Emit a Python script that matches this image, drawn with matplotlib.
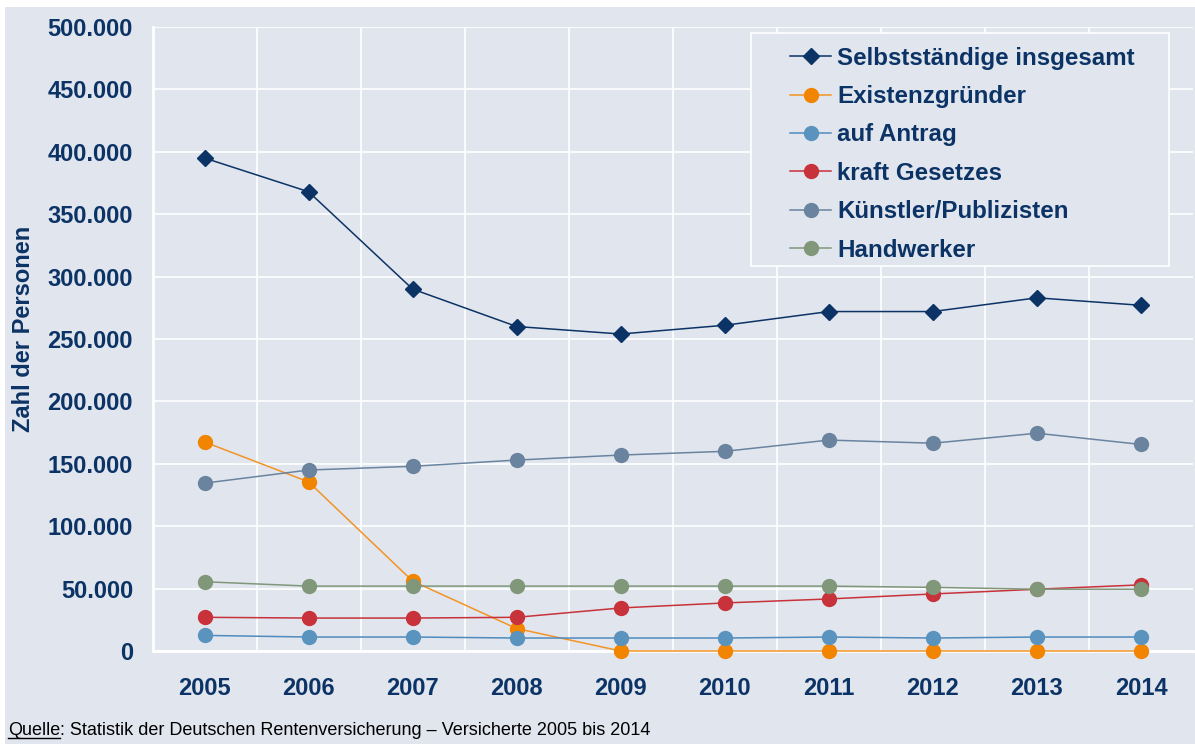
import matplotlib
matplotlib.use("Agg")
import matplotlib.pyplot as plt
from matplotlib.lines import Line2D
from matplotlib.ticker import FuncFormatter

plt.rcParams['font.family'] = ['Liberation Sans', 'DejaVu Sans']

years = ["2005", "2006", "2007", "2008", "2009", "2010", "2011", "2012", "2013", "2014"]

selbststaendige = [395000, 368000, 290000, 260000, 254000, 261000, 272000, 272000, 283000, 277000]
existenzgruender = [167500, 135500, 56000, 18000, 0, 0, 0, 0, 0, 0]
auf_antrag = [12500, 11200, 11200, 10400, 10400, 10400, 11200, 10400, 11200, 11200]
kraft_gesetzes = [27000, 26400, 26400, 27000, 34500, 38500, 41700, 45700, 49500, 53000]
kuenstler = [134500, 145000, 148000, 153000, 157000, 160000, 169000, 166500, 174500, 165500]
handwerker = [55500, 52000, 52000, 52000, 52000, 52000, 52000, 51000, 49500, 49500]

y_ticks = [0, 50000, 100000, 150000, 200000, 250000, 300000, 350000, 400000, 450000, 500000]

BG = "#E1E5ED"
NAVY = "#0C3366"
W, H = 1195, 744

series = [
    ("Selbstständige insgesamt", selbststaendige, "#0C3366", "#0C3366", "D", 8.6),
    ("Existenzgründer", existenzgruender, "#F39426", "#F28500", "o", 10),
    ("auf Antrag", auf_antrag, "#4F8BBE", "#5A93BE", "o", 10),
    ("kraft Gesetzes", kraft_gesetzes, "#C8323A", "#C8323A", "o", 10),
    ("Künstler/Publizisten", kuenstler, "#6A84A0", "#6A84A0", "o", 10),
    ("Handwerker", handwerker, "#80977A", "#80977A", "o", 10),
]

fig = plt.figure(figsize=(W / 100, H / 100), dpi=100, facecolor="white")
# panel background, leaving a thin white margin at top and left
fig.patches.append(plt.Rectangle((5 / W, 0), 1, (H - 7) / H,
                                 transform=fig.transFigure, facecolor=BG,
                                 edgecolor="none", zorder=-10))

ax = fig.add_axes([152.5 / W, 93 / H, 1040.5 / W, 624 / H])
ax.set_facecolor(BG)

x = list(range(len(years)))
handles = []
for label, values, lc, mc, marker, ms in series:
    ax.plot(x, values, color=lc, lw=1.1, marker=marker, markersize=ms,
            markerfacecolor=mc, markeredgecolor=mc, label=label,
            clip_on=False, zorder=3)
    handles.append(Line2D([0], [0], color=lc, lw=1.1, marker=marker,
                          markersize=ms, markerfacecolor=mc,
                          markeredgecolor=mc, label=label))

ax.set_xlim(-0.5, len(years) - 0.5)
ax.set_ylim(0, 500000)
ax.set_xticks(x)
ax.set_xticklabels(years)
ax.set_yticks(y_ticks)
ax.yaxis.set_major_formatter(FuncFormatter(
    lambda v, p: "0" if v == 0 else f"{int(v):,}".replace(",", ".")))

# vertical grid lines sit between the year categories
ax.set_xticks([i + 0.5 for i in range(len(years) - 1)], minor=True)
ax.grid(True, axis="y", which="major", color="white", lw=1.2, zorder=0)
ax.grid(True, axis="x", which="minor", color="white", lw=1.2, zorder=0)
ax.tick_params(axis="both", which="both", length=0)
ax.tick_params(axis="y", pad=14, labelsize=17, labelcolor=NAVY)
ax.tick_params(axis="x", pad=19, labelsize=17, labelcolor=NAVY)
for lab in ax.get_xticklabels() + ax.get_yticklabels():
    lab.set_fontweight("bold")

for side in ("top", "right"):
    ax.spines[side].set_visible(False)
for side in ("left", "bottom"):
    ax.spines[side].set_color("white")
    ax.spines[side].set_linewidth(2)

fig.text(24 / W, (H - 328.5) / H, "Zahl der Personen", rotation=90,
         ha="center", va="center", fontsize=17, fontweight="bold", color=NAVY)

# legend box drawn separately so it can be wider than its entries
ax.add_patch(plt.Rectangle((751 / W, (H - 266) / H), 418 / W, 233 / H,
                           transform=fig.transFigure, facecolor=BG,
                           edgecolor="white", lw=1.2, zorder=4,
                           clip_on=False))
leg = ax.legend(handles=handles, loc="upper left",
                bbox_to_anchor=(790 / W, (H - 46.5) / H),
                bbox_transform=fig.transFigure, frameon=False,
                prop={"size": 17.4, "weight": "bold"}, labelspacing=0.64,
                handlelength=1.7, handletextpad=0.25, borderpad=0,
                borderaxespad=0)
leg.set_zorder(6)
for t in leg.get_texts():
    t.set_color(NAVY)

# source line with underlined "Quelle"
base = (H - 735) / H
q = fig.text(8 / W, base, "Quelle", fontsize=13, color="black", va="baseline")
fig.canvas.draw()
bb = q.get_window_extent()
fig.text(bb.x1 / W, base,
         ": Statistik der Deutschen Rentenversicherung – Versicherte 2005 bis 2014",
         fontsize=13, color="black", va="baseline")
uy = (H - 738) / H
fig.add_artist(Line2D([bb.x0 / W, bb.x1 / W], [uy, uy],
                      transform=fig.transFigure, color="black", lw=1.0))

fig.savefig("out.png", dpi=100, facecolor=fig.get_facecolor())
